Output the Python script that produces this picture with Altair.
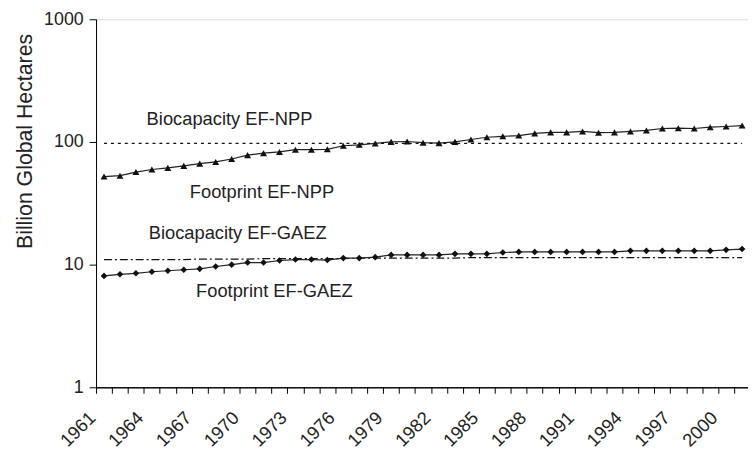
import altair as alt
import pandas as pd

years = list(range(1961, 2002))

footprint_npp = [52.2, 53.1, 56.8, 59.6, 61.5, 63.8, 66.6, 68.7, 72.6, 78.1,
                 81.0, 82.9, 86.5, 86.5, 87.1, 93.1, 94.8, 97.3, 100.2, 100.9,
                 98.7, 97.8, 100.2, 104.7, 109.2, 111.2, 112.7, 117.5, 119.7, 119.7,
                 121.9, 119.0, 119.7, 121.9, 124.1, 128.8, 129.5, 128.8, 131.9, 133.6,
                 136.1]

footprint_gaez = [8.09, 8.34, 8.50, 8.75, 8.91, 9.08, 9.24, 9.66, 10.0, 10.4,
                  10.4, 10.8, 11.0, 11.0, 10.9, 11.3, 11.3, 11.5, 12.0, 12.0,
                  12.0, 12.0, 12.25, 12.25, 12.25, 12.56, 12.7, 12.7, 12.7, 12.7,
                  12.7, 12.7, 12.7, 12.95, 12.95, 12.95, 12.95, 12.95, 12.95, 13.2,
                  13.4]

biocap_npp = [97.5] * 41

biocap_gaez = [11.0, 11.0, 11.0, 11.0, 11.0, 11.0, 11.1, 11.1, 11.1, 11.1,
               11.2, 11.2, 11.2, 11.2, 11.2, 11.2, 11.3, 11.3, 11.3, 11.3,
               11.3, 11.3, 11.3, 11.4, 11.4, 11.4, 11.4, 11.4, 11.4, 11.4,
               11.4, 11.4, 11.4, 11.4, 11.4, 11.4, 11.4, 11.4, 11.4, 11.4,
               11.4]

label_years_x = [1961, 1964, 1967, 1970, 1973, 1976, 1979, 1982, 1985, 1988,
                 1991, 1994, 1997, 2000]

label_texts = ["Biocapacity EF-NPP", "Footprint EF-NPP",
               "Biocapacity EF-GAEZ", "Footprint EF-GAEZ"]
label_years = [1963.67, 1966.38, 1963.8, 1966.77]
label_values = [138.6, 35.1, 16.3, 5.43]

df = pd.DataFrame({
    "year": years,
    "fp_npp": footprint_npp,
    "fp_gaez": footprint_gaez,
    "bc_npp": biocap_npp,
    "bc_gaez": biocap_gaez,
})
labels_df = pd.DataFrame({"text": label_texts, "year": label_years, "value": label_values})

FONT = "Liberation Sans"
x_dom = [1960.5, 2001.37]

x_scale = alt.Scale(domain=x_dom, nice=False, zero=False)
y_scale = alt.Scale(type="log", domain=[1, 1000], nice=False)

label_axis = alt.Axis(
    orient="bottom",
    values=[y - 0.5 for y in label_years_x],
    labelExpr="'' + (datum.value + 0.5)",
    labelAngle=-45,
    labelAlign="right",
    labelBaseline="top",
    labelPadding=21,
    labelOffset=-10.5,
    labelOverlap=False,
    labelFontSize=18.5,
    labelFont=FONT,
    labelColor="#222",
    ticks=False,
    domainColor="black",
    grid=False,
    title=None,
)
tick_axis = alt.Axis(
    orient="bottom",
    values=[y - 0.5 for y in years],
    labels=False,
    tickSize=6,
    tickColor="black",
    domainColor="black",
    grid=False,
    title=None,
)
y_axis = alt.Axis(
    values=[1, 10, 100, 1000],
    format="d",
    labelFontSize=18,
    labelFont=FONT,
    labelColor="#222",
    labelPadding=6,
    tickSize=7,
    tickColor="black",
    domainColor="black",
    grid=False,
    title="Billion Global Hectares",
    titleFont=FONT,
    titleFontSize=21.5,
    titleFontWeight="normal",
    titleColor="#222",
    titleX=-65,
    titleY=123,
    titleBaseline="alphabetic",
)

base = alt.Chart(df)

fp_npp_line = base.mark_line(color="#222", strokeWidth=1.2).encode(
    x=alt.X("year:Q", scale=x_scale, axis=label_axis),
    y=alt.Y("fp_npp:Q", scale=y_scale, axis=y_axis),
)
fp_npp_pts = base.mark_point(shape="triangle-up", filled=True, color="#111", size=50, opacity=1).encode(
    x="year:Q", y="fp_npp:Q"
)
fp_gaez_line = base.mark_line(color="#222", strokeWidth=1.2).encode(
    x="year:Q", y="fp_gaez:Q"
)
fp_gaez_pts = base.mark_point(shape="diamond", filled=True, color="#111", size=45, opacity=1).encode(
    x="year:Q", y="fp_gaez:Q"
)
bc_npp_line = base.mark_line(color="#111", strokeWidth=1.2, strokeDash=[3, 4]).encode(
    x="year:Q", y="bc_npp:Q"
)
bc_gaez_line = base.mark_line(color="#111", strokeWidth=1.2, strokeDash=[8, 3, 2, 3]).encode(
    x="year:Q", y="bc_gaez:Q"
)
texts = alt.Chart(labels_df).mark_text(
    align="left", baseline="alphabetic", font=FONT, fontSize=18.5, color="#222"
).encode(x="year:Q", y="value:Q", text="text:N")

data_layers = alt.layer(
    fp_npp_line, bc_npp_line, bc_gaez_line, fp_gaez_line, fp_npp_pts, fp_gaez_pts, texts
)

tick_layer = base.mark_line(opacity=0).encode(
    x=alt.X("year:Q", scale=x_scale, axis=tick_axis),
    y=alt.Y("fp_npp:Q", scale=y_scale, axis=y_axis),
)

chart = alt.layer(data_layers, tick_layer).resolve_scale(x="independent").properties(
    width=659,
    height=372,
    autosize=alt.AutoSizeParams(type="none"),
    padding={"left": 89, "top": 9, "right": 0, "bottom": 64},
).configure_view(stroke=None).configure(background="white")

chart.save("out.html", embed_options={"renderer": "svg", "actions": False})
